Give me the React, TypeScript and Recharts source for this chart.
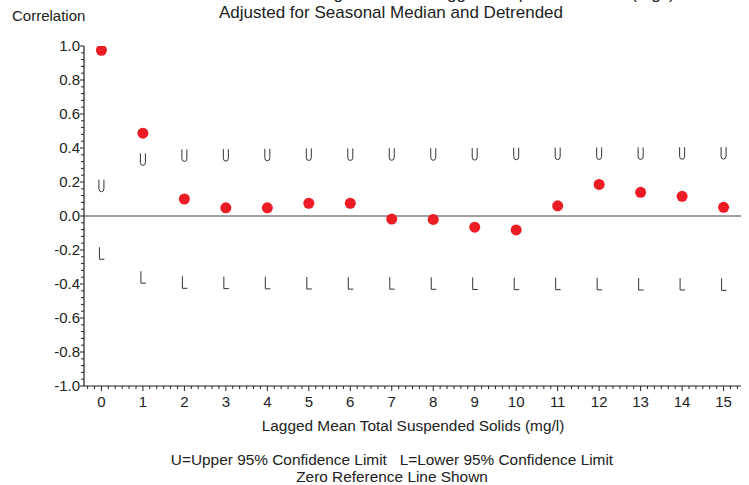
import React from 'react';
import {
  ComposedChart, Scatter, XAxis, YAxis, ReferenceLine
} from 'recharts';

const lags = [0, 1, 2, 3, 4, 5, 6, 7, 8, 9, 10, 11, 12, 13, 14, 15];
const correlation = [0.975, 0.487, 0.1, 0.048, 0.048, 0.075, 0.075, -0.018, -0.02, -0.066, -0.082, 0.06, 0.186, 0.139, 0.116, 0.051];
const upperLimit = [0.178, 0.333, 0.356, 0.358, 0.36, 0.362, 0.362, 0.363, 0.363, 0.364, 0.366, 0.367, 0.368, 0.368, 0.369, 0.37];
const lowerLimit = [-0.219, -0.36, -0.39, -0.392, -0.393, -0.394, -0.395, -0.395, -0.396, -0.397, -0.398, -0.398, -0.399, -0.4, -0.4, -0.402];

const yMajorTicks = [-1.0, -0.8, -0.6, -0.4, -0.2, 0.0, 0.2, 0.4, 0.6, 0.8, 1.0];

const FONT = 'Arial, "Liberation Sans", sans-serif';
const INK = '#222';

const corrData = lags.map((lag, i) => ({ lag, value: correlation[i] }));
const upperData = lags.map((lag, i) => ({ lag, value: upperLimit[i] }));
const lowerData = lags.map((lag, i) => ({ lag, value: lowerLimit[i] }));

// minor ticks: 6 steps per lag on x, 0.04 on y
const xTicks: number[] = [];
for (let k = -2; k <= 15 * 6 + 2; k++) xTicks.push(k / 6);
const yTicks: number[] = [];
for (let k = -25; k <= 25; k++) yTicks.push(k * 0.04);

const isMajorX = (v: number) => Math.abs(v - Math.round(v)) < 1e-6;
const isMajorY = (v: number) => yMajorTicks.some((m) => Math.abs(m - v) < 1e-6);

const XTick = (props: any) => {
  const { x, y, payload } = props;
  const major = isMajorX(payload.value);
  return (
    <g>
      <line x1={x} x2={x} y1={y} y2={y + (major ? 5 : 3)} stroke={INK} strokeWidth={1} />
      {major && (
        <text x={x} y={y + 21} textAnchor="middle" fontSize={15} fill={INK} fontFamily={FONT}>
          {Math.round(payload.value)}
        </text>
      )}
    </g>
  );
};

const YTick = (props: any) => {
  const { x, y, payload } = props;
  const major = isMajorY(payload.value);
  return (
    <g>
      <line x1={x} x2={x - (major ? 4 : 3)} y1={y} y2={y} stroke={INK} strokeWidth={1} />
      {major && (
        <text x={x - 4} y={y + 5} textAnchor="end" fontSize={15} fill={INK} fontFamily={FONT}>
          {payload.value.toFixed(1)}
        </text>
      )}
    </g>
  );
};

const UMark = (props: any) => {
  const { cx, cy } = props;
  return (
    <path
      d={`M ${cx - 2.5} ${cy - 6} V ${cy + 3} Q ${cx - 2.5} ${cy + 6} ${cx} ${cy + 6} Q ${cx + 2.5} ${cy + 6} ${cx + 2.5} ${cy + 3} V ${cy - 6}`}
      fill="none" stroke="#333" strokeWidth={1}
    />
  );
};

const LMark = (props: any) => {
  const { cx, cy } = props;
  return (
    <path d={`M ${cx - 2} ${cy - 6} V ${cy + 6} H ${cx + 3}`} fill="none" stroke="#333" strokeWidth={1} />
  );
};

const Dot = (props: any) => {
  const { cx, cy } = props;
  return <circle cx={cx} cy={cy} r={5.5} fill="#ec1c24" />;
};

const textStyle: React.CSSProperties = {
  position: 'absolute', fontFamily: FONT, color: INK, whiteSpace: 'nowrap', lineHeight: 1,
};

export default function App() {
  return (
    <div style={{ position: 'absolute', top: 0, left: 0, width: 749, height: 485, background: '#fff', overflow: 'hidden' }}>
      <ComposedChart
        width={749}
        height={485}
        margin={{ top: 46, right: 8, left: 0, bottom: 69 }}
      >
        <XAxis
          dataKey="lag"
          type="number"
          domain={[-0.42, 15.42]}
          ticks={xTicks}
          interval={0}
          allowDataOverflow
          tickSize={0}
          tickMargin={0}
          tickLine={false}
          tick={<XTick />}
          axisLine={{ stroke: INK, strokeWidth: 1.2 }}
          height={30}
        />
        <XAxis
          xAxisId="top"
          orientation="top"
          type="number"
          domain={[-0.42, 15.42]}
          allowDataOverflow
          tick={false}
          tickLine={false}
          axisLine={{ stroke: INK, strokeWidth: 1.2 }}
          height={0}
        />
        <YAxis
          type="number"
          domain={[-1, 1]}
          ticks={yTicks}
          interval={0}
          allowDataOverflow
          tickSize={0}
          tickMargin={0}
          tickLine={false}
          tick={<YTick />}
          axisLine={{ stroke: INK, strokeWidth: 1.2 }}
          width={84}
        />
        <YAxis
          yAxisId="right"
          orientation="right"
          type="number"
          domain={[-1, 1]}
          tick={false}
          tickLine={false}
          axisLine={{ stroke: INK, strokeWidth: 1.2 }}
          width={0}
        />
        <ReferenceLine y={0} stroke="#808080" strokeWidth={1.3} />
        <Scatter data={upperData} dataKey="value" shape={<UMark />} isAnimationActive={false} />
        <Scatter data={lowerData} dataKey="value" shape={<LMark />} isAnimationActive={false} />
        <Scatter data={corrData} dataKey="value" shape={<Dot />} isAnimationActive={false} />
      </ComposedChart>

      <div style={{ ...textStyle, left: 12, top: 8, fontSize: 15 }}>Correlation</div>
      <div style={{ ...textStyle, left: 0, width: 782, top: -15, fontSize: 17, textAlign: 'center' }}>
        Cross Correlation of Flow-Weighted Mean Lagged Suspended Solids (mg/l)
      </div>
      <div style={{ ...textStyle, left: 0, width: 782, top: 4, fontSize: 17, textAlign: 'center' }}>
        Adjusted for Seasonal Median and Detrended
      </div>
      <div style={{ ...textStyle, left: 0, width: 826, top: 418, fontSize: 15.4, textAlign: 'center' }}>
        Lagged Mean Total Suspended Solids (mg/l)
      </div>
      <div style={{ ...textStyle, left: 0, width: 784, top: 452, fontSize: 15.4, textAlign: 'center' }}>
        U=Upper 95% Confidence Limit&nbsp;&nbsp;&nbsp;L=Lower 95% Confidence Limit
      </div>
      <div style={{ ...textStyle, left: 0, width: 784, top: 469, fontSize: 15.4, textAlign: 'center' }}>
        Zero Reference Line Shown
      </div>
    </div>
  );
}
